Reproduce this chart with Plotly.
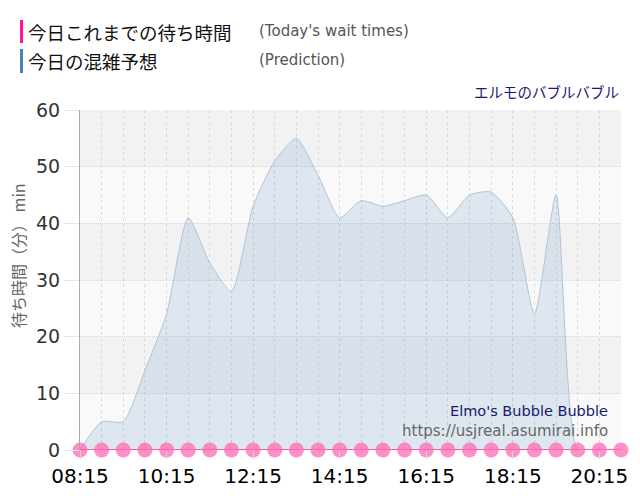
import plotly.graph_objects as go

times = ["08:15", "08:45", "09:15", "09:45", "10:15", "10:45", "11:15", "11:45",
         "12:15", "12:45", "13:15", "13:45", "14:15", "14:45", "15:15", "15:45",
         "16:15", "16:45", "17:15", "17:45", "18:15", "18:45", "19:15", "19:45",
         "20:15", "20:45"]
actual = [0] * len(times)
prediction = [0, 5, 5, 14, 24, 41, 33, 28, 43, 51, 55, 48.5, 41, 44, 43, 44,
              45, 41, 45, 45.5, 41, 24, 45, 0, 0]
tick_labels = ["08:15", "10:15", "12:15", "14:15", "16:15", "18:15", "20:15"]
band_edges = [(10, 20), (30, 40), (50, 60)]

day = "2024-01-01 "
xt = [day + t for t in times]
xp = xt[:len(prediction)]

fig = go.Figure()
fig.add_trace(go.Scatter(
    x=xp, y=prediction, mode="lines", line=dict(color="#afc4d8", width=1, shape="spline", smoothing=0.6),
    fill="tozeroy", fillcolor="rgba(70,130,180,0.15)", hoverinfo="skip", showlegend=False))
fig.add_trace(go.Scatter(
    x=xt, y=actual, mode="lines+markers",
    line=dict(color="rgba(255,40,150,0.75)", width=2),
    marker=dict(size=15, color="rgba(255,105,180,0.75)", line=dict(width=0)),
    cliponaxis=False, showlegend=False))

PL, PT, PW, PH = 80, 110, 541, 340


def px(x):
    return (x - PL) / PW


def py(y):
    return (PT + PH - y) / PH


shapes = []
for lo, hi in band_edges:
    shapes.append(dict(type="rect", xref="paper", yref="y", x0=0, x1=1, y0=lo, y1=hi,
                       fillcolor="#f2f2f2", line=dict(width=0), layer="below"))
# legend colour bars
shapes.append(dict(type="rect", xref="paper", yref="paper", x0=px(20), x1=px(23), y0=py(43), y1=py(20),
                   fillcolor="#ff1493", line=dict(width=0)))
shapes.append(dict(type="rect", xref="paper", yref="paper", x0=px(20), x1=px(23), y0=py(73), y1=py(49),
                   fillcolor="#4682b4", line=dict(width=0)))

jp = "Noto Sans CJK JP"
en = "DejaVu Sans"
ann = [
    dict(text="今日これまでの待ち時間", x=26, y=32, font=dict(family=jp, size=18.5, color="#111")),
    dict(text="(Today's wait times)", x=257, y=31, font=dict(family=en, size=15, color="#555")),
    dict(text="今日の混雑予想", x=26, y=61, font=dict(family=jp, size=18.5, color="#111")),
    dict(text="(Prediction)", x=257, y=60, font=dict(family=en, size=15, color="#555")),
]
annotations = []
for a in ann:
    annotations.append(dict(text=a["text"], xref="paper", yref="paper",
                            x=px(a["x"]), y=py(a["y"]),
                            xanchor="left", yanchor="middle", showarrow=False, font=a["font"]))
annotations.append(dict(text="エルモのバブルバブル", xref="paper", yref="paper", x=px(621),
                        y=py(91), xanchor="right", yanchor="middle",
                        showarrow=False, font=dict(family=jp, size=14.5, color="#191970")))
for text, y, color, size in [("Elmo's Bubble Bubble", 411, "#191970", 14.5),
                             ("https://usjreal.asumirai.info", 431, "#666666", 15)]:
    annotations.append(dict(text=text, xref="paper", yref="paper", x=px(610),
                            y=py(y), xanchor="right", yanchor="middle",
                            showarrow=False, font=dict(family=en, size=size, color=color)))
# y-axis title
annotations.append(dict(text="待ち時間（分） min", xref="paper", yref="paper", x=px(18), y=py(256),
                        xanchor="center", yanchor="middle", textangle=-90, showarrow=False,
                        font=dict(family=jp, size=16, color="#666")))

fig.update_layout(
    width=640, height=500,
    margin=dict(l=80, r=19, t=110, b=50),
    paper_bgcolor="white", plot_bgcolor="#f9f9f9",
    shapes=shapes, annotations=annotations,
    xaxis=dict(
        type="date", range=[xt[0], xt[-1]],
        tickvals=[day + t for t in tick_labels], ticktext=tick_labels,
        tickfont=dict(family=en, size=20, color="#000"),
        showgrid=True, gridcolor="#d8d8d8", griddash="3px,3px", gridwidth=1,
        ticks="outside", ticklen=8, tickcolor="#d8d8d8",
        minor=dict(tickvals=xt, showgrid=True, gridcolor="#dcdcdc", griddash="3px,3px", ticks=""),
        zeroline=False, showline=False, fixedrange=True,
    ),
    yaxis=dict(
        range=[0, 60], dtick=10, tick0=0,
        tickfont=dict(family=en, size=19, color="#333"),
        showgrid=True, gridcolor="#d6d6d6", griddash="1px,1px",
        ticks="outside", ticklen=15, tickcolor="#e6e6e6",
        showline=True, linecolor="#aaaaaa", linewidth=1,
        zeroline=False, automargin=False, fixedrange=True,
    ),
)

fig.write_html("out.html", config={"displayModeBar": False},
               post_script="document.body.style.margin='0';document.body.style.overflow='hidden';")
